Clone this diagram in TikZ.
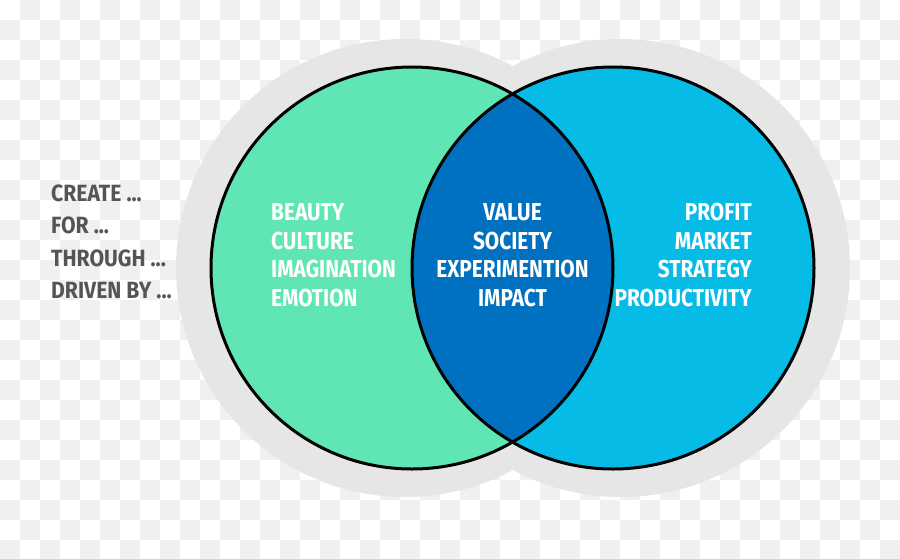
\documentclass[tikz,border=0pt]{standalone}
\usepackage{fontspec}
\usetikzlibrary{math}
\newfontfamily\dinfont[FakeStretch=0.85]{Fira Sans}
\newfontfamily\dinwide[FakeStretch=0.9]{Fira Sans}
\definecolor{checkgray}{HTML}{F0F0F0}
\definecolor{halogray}{HTML}{E6E6E6}
\definecolor{artgreen}{HTML}{60E6B4}
\definecolor{bizcyan}{HTML}{06BBE6}
\definecolor{coreblue}{HTML}{0071C1}
\definecolor{labelgray}{HTML}{555555}

\begin{document}
\begin{tikzpicture}[x=1pt,y=-1pt,
      ring/.style={line width=3pt, draw=black},
      wordlist/.style={text=white, inner sep=0pt, font=\dinfont\bfseries\fontsize{24.5}{28.5}\selectfont},
      every node/.append style={inner sep=0pt}]
    \tikzmath{
      \R=201; \H=229; % circle and halo radii
      \Cy=268;
    }
    \useasboundingbox (0,0) rectangle (900,558);
    % checkered background
    \foreach \i in {0,...,44} {
      \foreach \j in {0,...,27} {
        \ifodd\numexpr\i+\j\relax
          \fill[checkgray] (\i*20,\j*20) rectangle ++(20,20);
        \fi
      }
    }

    % halo and circles
    \fill[halogray] (405,\Cy) circle [radius=\H] (621,\Cy) circle [radius=\H];
    \fill[artgreen] (412,\Cy) circle [radius=\R];
    \fill[bizcyan] (613,\Cy) circle [radius=\R];
    \begin{scope}
      \clip (412,\Cy) circle [radius=\R];
      \fill[coreblue] (613,\Cy) circle [radius=\R];
    \end{scope}
    \draw[ring] (412,\Cy) circle [radius=\R];
    \draw[ring] (613,\Cy) circle [radius=\R];

    % texts
    \node[wordlist, align=left, anchor=west] (artwords) at (271,255)
      {BEAUTY\\CULTURE\\IMAGINATION\\EMOTION};
    \node[wordlist, align=center] (corewords) at (512.5,255)
      {VALUE\\SOCIETY\\EXPERIMENTION\\IMPACT};
    \node[wordlist, align=right, anchor=east] (bizwords) at (752,255)
      {PROFIT\\MARKET\\STRATEGY\\PRODUCTIVITY};
    \node[wordlist, text=labelgray, align=left, anchor=west,
          font=\dinwide\bfseries\fontsize{23.5}{32.5}\selectfont] (verbs) at (51,242)
      {CREATE ...\\FOR ...\\THROUGH ...\\DRIVEN BY ...};
  \end{tikzpicture}
\end{document}
